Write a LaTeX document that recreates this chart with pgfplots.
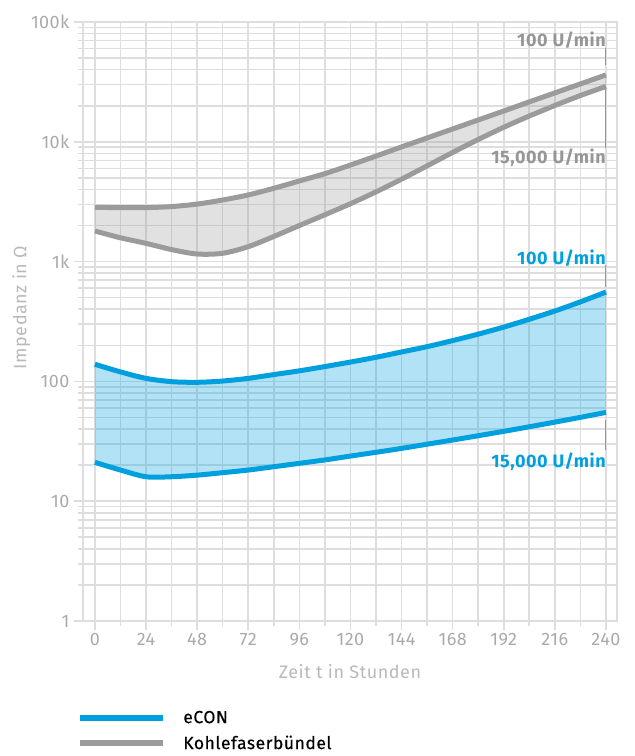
\documentclass[border=0pt]{standalone}
\usepackage{pgfplots}
\pgfplotsset{compat=1.18}
\usepgfplotslibrary{fillbetween}
\usepackage{fontspec}
\setmainfont{Fira Sans}
\definecolor{eblue}{RGB}{0,160,222}
\definecolor{kgrey}{RGB}{155,155,155}
\definecolor{gridc}{RGB}{222,222,222}
\definecolor{tickc}{RGB}{170,170,170}
\definecolor{labc}{RGB}{185,185,185}
\definecolor{annc}{RGB}{150,150,150}
\begin{document}
\begin{tikzpicture}
\begin{axis}[
  set layers,
  scale only axis,
  width=534pt, height=599pt,
  ymode=log, ymin=1, ymax=100000,
  xmin=-5.6, xmax=245.2,
  xtick={0,24,...,240},
  xticklabels={0,24,48,72,96,120,144,168,192,216,240},
  minor x tick num=1,
  ytick={1,10,100,1000,10000,100000},
  yticklabels={1,10,100,1k,10k,100k},
  grid=both,
  grid style={draw=gridc, line width=1.6pt},
  minor grid style={draw=gridc, line width=1.6pt},
  axis line style={draw=gridc, line width=1.6pt},
  tick style={draw=gridc, line width=1.6pt},
  tick align=outside,
  major tick length=9pt, minor tick length=5pt,
  xtick pos=bottom, ytick pos=left,
  ticklabel style={font=\fontsize{18}{20}\selectfont\addfontfeatures{LetterSpace=2.5}, text=tickc},
  yticklabel style={xshift=-1pt},
  xlabel={Zeit t in Stunden},
  ylabel={Impedanz in Ω},
  label style={font=\fontsize{18}{20}\selectfont\addfontfeatures{LetterSpace=3}, text=labc},
  xlabel style={yshift=-11pt},
  ylabel style={yshift=-6pt, xshift=14pt},
  legend style={at={(-0.011,-0.148)}, anchor=north west, draw=none, fill=none,
    font=\fontsize{17.5}{20}\selectfont\addfontfeatures{FakeBold=0.4,LetterSpace=3}, text=black,
    row sep=9pt, inner sep=0pt, nodes={inner sep=1pt}},
  legend cell align=left,
  legend image code/.code={\draw[#1, line width=6pt] (0pt,0pt) -- (83pt,0pt);},
]
\addlegendimage{draw=eblue}
\addlegendentry{\hspace{16pt}eCON}
\addlegendimage{draw=kgrey}
\addlegendentry{\hspace{16pt}Kohlefaserbündel}

% Kohlefaserbündel 100 U/min
\addplot[draw=kgrey, line width=5pt, smooth, name path=kA, forget plot] coordinates {
(0,2840) (12,2820) (24,2820) (36,2880) (48,3020) (60,3267) (72,3600) (84,4090)
(96,4710) (108,5420) (120,6397) (132,7603) (144,9057) (156,10765) (168,12794)
(180,15205) (192,18072) (204,21528) (216,25586) (228,30409) (240,36141)};
% Kohlefaserbündel 15,000 U/min
\addplot[draw=kgrey, line width=5pt, smooth, name path=kB, forget plot] coordinates {
(0,1800) (12,1580) (24,1420) (36,1260) (48,1157) (60,1173) (72,1332) (84,1620)
(96,2000) (108,2460) (120,3041) (132,3819) (144,4875) (156,6295) (168,8147)
(180,10447) (192,13213) (204,16406) (216,20090) (228,24322) (240,28973)};
\addplot[fill=kgrey, fill opacity=0.3, draw=none, forget plot] fill between[of=kA and kB];

% eCON 100 U/min
\addplot[draw=eblue, line width=5pt, smooth, name path=eA, forget plot] coordinates {
(0,139) (12,120) (24,106) (36,99.5) (48,98.3) (60,100.7) (72,106) (84,114)
(96,122.5) (108,133) (120,145) (132,159) (144,176) (156,195) (168,219)
(180,248) (192,284) (204,330) (216,387) (228,461) (240,557)};
% eCON 15,000 U/min
\addplot[draw=eblue, line width=5pt, smooth, name path=eB, forget plot] coordinates {
(0,21.1) (12,18.2) (24,16.0) (36,16.0) (48,16.5) (60,17.3) (72,18.2) (84,19.4)
(96,20.7) (108,22.1) (120,23.8) (132,25.6) (144,27.6) (156,29.9) (168,32.4)
(180,35.2) (192,38.3) (204,41.8) (216,45.7) (228,50.1) (240,55.1)};
\addplot[fill=eblue, fill opacity=0.3, draw=none, forget plot] fill between[of=eA and eB];

% connectors
\draw[annc, line width=1pt] (axis cs:240,60700) -- (axis cs:240,43700);
\draw[annc, line width=1pt] (axis cs:240,28800) -- (axis cs:240,8870);
\draw[annc, line width=1pt] (axis cs:240,936) -- (axis cs:240,615);
\draw[annc, line width=1pt] (axis cs:240,47.6) -- (axis cs:240,26.8);

\node[anchor=east, inner sep=0pt, text=annc, font=\fontsize{18}{20}\selectfont\bfseries\addfontfeatures{LetterSpace=3}] at (axis cs:240,70700) {100 U/min};
\node[anchor=east, inner sep=0pt, text=annc, font=\fontsize{18}{20}\selectfont\bfseries\addfontfeatures{LetterSpace=3}] at (axis cs:240,7330) {15,000 U/min};
\node[anchor=east, inner sep=0pt, text=eblue, font=\fontsize{18}{20}\selectfont\bfseries\addfontfeatures{LetterSpace=3}] at (axis cs:240,1072) {100 U/min};
\node[anchor=east, inner sep=0pt, text=eblue, font=\fontsize{18}{20}\selectfont\bfseries\addfontfeatures{LetterSpace=3}] at (axis cs:240,21.2) {15,000 U/min};
\end{axis}
\pgfresetboundingbox
\useasboundingbox (-83pt,-135pt) rectangle (552pt,621pt);
\end{tikzpicture}
\end{document}
